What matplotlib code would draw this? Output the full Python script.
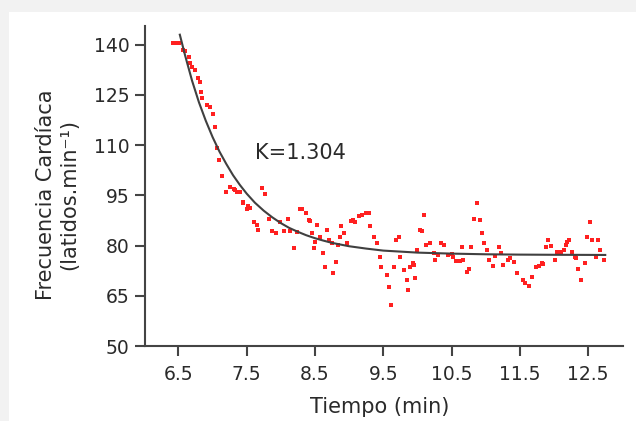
import matplotlib
matplotlib.use("Agg")
import matplotlib.pyplot as plt
from matplotlib.patches import Rectangle

# heart rate recovery: measured points (min, beats/min)
tiempo = [6.42, 6.46, 6.51, 6.57, 6.60, 6.65, 6.67, 6.70, 6.74, 6.79, 6.81, 6.83,
          6.85, 6.92, 6.96, 7.01, 7.04, 7.07, 7.09, 7.14, 7.19, 7.26, 7.31, 7.33,
          7.36, 7.40, 7.44, 7.45, 7.50, 7.52, 7.55, 7.61, 7.65, 7.67, 7.72, 7.77,
          7.82, 7.87, 7.93, 7.99, 8.04, 8.11, 8.13, 8.19, 8.24, 8.28, 8.31, 8.37,
          8.41, 8.43, 8.46, 8.48, 8.50, 8.53, 8.58, 8.62, 8.64, 8.68, 8.70, 8.75,
          8.76, 8.80, 8.83, 8.86, 8.88, 8.92, 8.97, 9.02, 9.06, 9.09, 9.14, 9.19,
          9.24, 9.29, 9.31, 9.37, 9.41, 9.45, 9.47, 9.55, 9.58, 9.61, 9.65, 9.69,
          9.73, 9.75, 9.81, 9.85, 9.86, 9.89, 9.93, 9.95, 9.97, 10.00, 10.04, 10.07,
          10.09, 10.13, 10.19, 10.24, 10.26, 10.30, 10.35, 10.39, 10.45, 10.50, 10.52,
          10.56, 10.62, 10.65, 10.67, 10.73, 10.76, 10.78, 10.83, 10.87, 10.91, 10.95,
          10.97, 11.02, 11.05, 11.10, 11.14, 11.19, 11.22, 11.26, 11.32, 11.36, 11.41,
          11.46, 11.54, 11.58, 11.63, 11.68, 11.73, 11.78, 11.83, 11.84, 11.88, 11.91,
          11.96, 12.01, 12.05, 12.10, 12.14, 12.17, 12.19, 12.22, 12.27, 12.30, 12.32,
          12.35, 12.39, 12.46, 12.49, 12.53, 12.56, 12.61, 12.65, 12.68, 12.73]
fc = [140.5, 140.5, 140.5, 138.5, 138.0, 136.2, 134.5, 133.5, 132.5, 130.0, 129.0, 126.0,
      124.2, 122.0, 121.3, 119.3, 115.3, 109.1, 105.6, 100.9, 96.1, 97.6, 97.0, 96.6,
      96.1, 96.1, 92.8, 93.1, 90.9, 91.7, 91.2, 86.9, 86.2, 84.7, 97.2, 95.5,
      87.9, 84.4, 83.9, 86.9, 84.5, 87.9, 84.5, 79.4, 84.2, 90.9, 91.0, 89.7,
      87.7, 87.2, 83.7, 79.2, 81.2, 86.2, 82.7, 77.7, 73.7, 84.7, 81.7, 80.7,
      71.7, 75.2, 80.2, 82.7, 85.9, 83.7, 80.7, 87.2, 87.7, 86.9, 88.7, 89.2,
      89.7, 89.7, 85.9, 82.7, 80.7, 76.7, 73.7, 71.2, 67.5, 62.3, 73.7, 81.7,
      82.7, 76.7, 72.7, 69.7, 66.7, 73.7, 74.7, 74.2, 70.2, 78.7, 84.7, 84.5,
      89.2, 80.2, 80.7, 77.9, 75.7, 77.2, 80.7, 80.2, 77.2, 77.5, 76.7,
      75.5, 75.5, 79.7, 75.7, 72.2, 72.9, 79.7, 87.9, 92.8, 87.5, 83.9,
      80.7, 78.7, 75.7, 73.9, 76.9, 79.7, 77.7, 74.2, 75.7, 76.2, 75.2,
      71.7, 69.7, 68.7, 67.9, 70.7, 73.5, 73.9, 74.9, 74.5, 79.7, 81.7,
      79.9, 75.7, 78.2, 78.2, 78.7, 80.2, 81.2, 81.7, 78.2, 76.7, 76.2,
      72.9, 69.7, 74.7, 82.7, 86.9, 81.7, 76.7, 81.7, 78.7, 75.7]

# fitted curve
ajuste_t = [6.52, 6.6, 6.7, 6.8, 6.9, 7.0, 7.1, 7.2, 7.3, 7.4, 7.5, 7.62, 7.75, 7.87,
            8.0, 8.12, 8.25, 8.37, 8.5, 8.62, 8.75, 9.0, 9.25, 9.5, 9.75, 10.0, 10.5,
            11.0, 11.5, 12.0, 12.75]
ajuste_fc = [143.0, 136.6, 129.2, 122.8, 117.3, 112.4, 108.1, 104.4, 101.0, 98.1, 95.5,
             92.8, 90.4, 88.5, 86.7, 85.3, 84.1, 83.1, 82.2, 81.5, 80.8, 79.8, 79.1,
             78.5, 78.2, 77.9, 77.6, 77.4, 77.3, 77.25, 77.2]

xticks = [6.5, 7.5, 8.5, 9.5, 10.5, 11.5, 12.5]
yticks = [50, 65, 80, 95, 110, 125, 140]

txt = '#2a2a2a'

fig = plt.figure(figsize=(6.36, 4.21), dpi=100)
fig.patch.set_facecolor('#f2f2f2')
# white panel behind the axes
fig.patches.append(Rectangle((9 / 636, 0), 1, 1 - 12 / 421, transform=fig.transFigure,
                             facecolor='white', edgecolor='none', zorder=-10))

ax = fig.add_axes([145 / 636, 75 / 421, (623 - 145) / 636, (346 - 26) / 421])
ax.set_zorder(1)
ax.set_facecolor('white')

ax.plot(tiempo, fc, 's', color='#ff2020', ms=3.0, mew=0, zorder=2)
ax.plot(ajuste_t, ajuste_fc, color='#404040', lw=1.5, zorder=3)

ax.text(7.62, 107.7, 'K=1.304', fontsize=15, color=txt, ha='left', va='center')

ax.set_xlim(6.01, 13.01)
ax.set_ylim(50, 145.6)
ax.set_xticks(xticks)
ax.set_xticklabels([str(v) for v in xticks])
ax.set_yticks(yticks)

for s in ['top', 'right']:
    ax.spines[s].set_visible(False)
for s in ['left', 'bottom']:
    ax.spines[s].set_color('#444444')
    ax.spines[s].set_linewidth(1.5)

ax.tick_params(axis='y', direction='out', length=7, width=1.5, color='#444444',
               labelsize=13.5, labelcolor=txt, pad=4)
ax.tick_params(axis='x', direction='out', length=7, width=1.5, color='#444444',
               labelsize=13.5, labelcolor=txt, pad=7)

ax.set_xlabel('Tiempo (min)', fontsize=15, color=txt)
ax.xaxis.set_label_coords(0.49, -0.19)
ax.xaxis.label.set_va('center')

ax.set_ylabel('Frecuencia Cardíaca\n(latidos.min⁻¹)', fontsize=15, color=txt,
              linespacing=1.2)
ax.yaxis.label.set(rotation_mode='default', va='center', ha='center')
ax.yaxis.set_label_coords((57.5 - 145) / 478, 0.472)

fig.savefig('out.png', dpi=100, facecolor=fig.get_facecolor())
